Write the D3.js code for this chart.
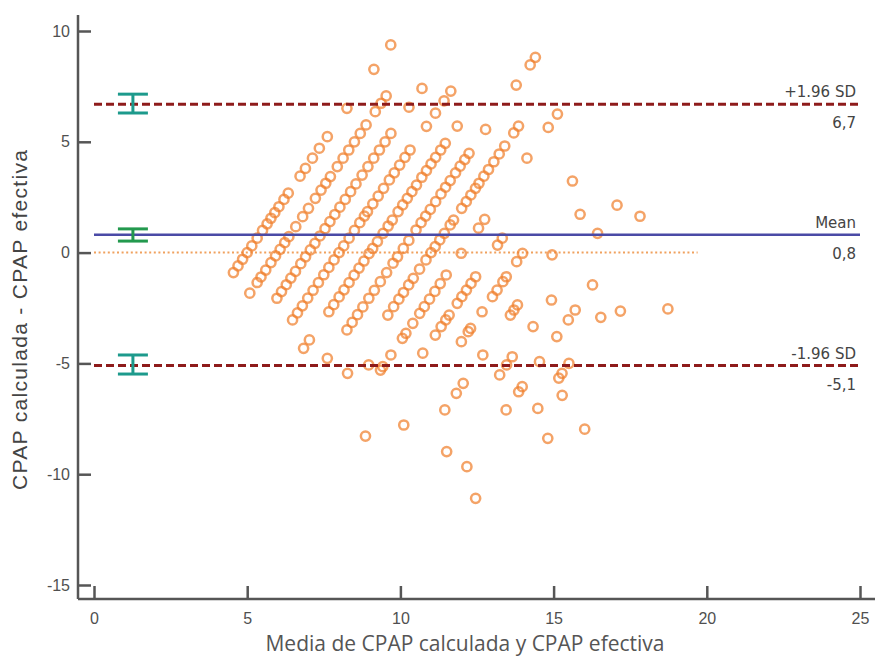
<!DOCTYPE html>
<html><head><meta charset="utf-8">
<script src="https://cdn.jsdelivr.net/npm/d3@7"></script>
<style>
html,body{margin:0;padding:0;background:#fff;}
svg{display:block;}
text{font-family:"Liberation Sans",Arial,sans-serif;}
</style></head>
<body><svg id="chart" width="875" height="657"></svg>
<script>
// CPAP efectiva levels (each diagonal of the plot) and the differences (calculada - efectiva) read per level
const efectivaLevels = [5, 6, 7, 8, 9, 10, 11, 11.5, 12, 13, 14, 15, 16, 17, 18, 18.5, 19, 20];
const differencesByLevel = [
  [-0.9,-0.6,-0.3,0.0,0.3,0.65,1.0,1.3,1.55,1.8,2.07,2.4,2.68,3.45,3.8,4.26,4.71,5.23,6.51,8.27,9.37],
  [-1.83,-1.35,-1.1,-0.79,-0.45,-0.15,0.15,0.45,0.72,1.17,1.62,2.0,2.45,2.82,3.13,3.43,3.88,4.26,4.63,5.0,5.38,5.76,6.36,6.74,7.07],
  [-2.06,-1.76,-1.45,-1.15,-0.85,-0.5,-0.19,0.12,0.42,0.75,1.08,1.4,1.72,2.05,2.4,2.75,3.1,3.5,3.88,4.26,4.63,5.0,5.38,6.56,7.41],
  [-3.04,-2.72,-2.4,-2.05,-1.7,-1.35,-1.0,-0.67,-0.33,0.0,0.3,0.65,1.0,1.35,1.65,1.85,2.2,2.55,2.9,3.28,3.6,3.95,4.3,4.63,5.7,6.29,6.85,7.29],
  [-4.32,-3.94,-2.67,-2.35,-2.0,-1.68,-1.35,-1.02,-0.7,-0.38,-0.05,0.19,0.5,0.87,1.2,1.47,1.85,2.15,2.45,2.75,3.05,3.4,3.7,4.0,4.3,4.63,4.93,5.71],
  [-4.77,-3.49,-3.15,-2.8,-2.45,-2.06,-1.7,-1.31,-0.9,-0.48,-0.19,0.19,0.55,1.02,1.35,1.65,1.95,2.3,2.65,2.95,3.25,3.6,3.9,4.2,4.48,5.56,7.56,8.47,8.81],
  [-5.45,-2.82,-2.44,-2.1,-1.8,-1.46,-1.16,-0.75,-0.33,0.0,0.27,0.57,0.87,1.25,1.47,2.0,2.3,2.6,2.9,3.13,3.45,3.75,4.1,4.45,4.81,5.4,5.71],
  [-5.07],
  [-5.3,-5.15,-4.62,-3.87,-3.64,-3.19,-2.74,-2.44,-2.1,-1.75,-1.4,-1.01,-0.03,1.1,1.5,4.26,5.65,6.25],
  [-8.28,-4.54,-3.72,-3.34,-3.04,-2.82,-2.29,-1.99,-1.69,-1.39,-1.09,0.34,0.65],
  [-7.78,-4.02,-3.57,-3.42,-2.67,-1.99,-1.69,-1.31,-1.09,-0.41,-0.03,3.23],
  [-7.1,-6.35,-5.9,-4.62,-2.82,-2.59,-2.36,-0.1,1.73],
  [-8.98,-5.52,-5.07,-4.7,-3.34,-2.14,0.87,2.14],
  [-9.66,-7.1,-6.28,-6.05,-4.92,-3.79,-3.04,-2.59,-1.46,1.64],
  [-11.09,-7.03,-5.66,-5.45,-5.0,-2.92],
  [-6.44,-2.64],
  [-8.38],
  [-7.97,-2.54]
];
const xTicks = [0, 5, 10, 15, 20, 25];
const yTicks = [10, 5, 0, -5, -10, -15];
const meanDiff = 0.8, upperLoA = 6.7, lowerLoA = -5.1;
const ciX = 1.27;
const ciUpper = [6.3, 7.15], ciMean = [0.52, 1.07], ciLower = [-5.48, -4.62];
const zeroLineEnd = 19.7;
const lineLabels = [
  {value: upperLoA, top: "+1.96 SD", bottom: "6,7"},
  {value: meanDiff, top: "Mean", bottom: "0,8"},
  {value: lowerLoA, top: "-1.96 SD", bottom: "-5,1"}
];

const points = [];
efectivaLevels.forEach((b, i) => differencesByLevel[i].forEach(d => {
  const calc = b + d;
  points.push({mean: (calc + b) / 2, diff: calc - b});
}));

const svg = d3.select("#chart");
const x = d3.scaleLinear().domain([0, 25]).range([94, 860]);
const y = d3.scaleLinear().domain([-15, 10]).range([585, 31]);
const axisLeftX = 78, axisBottomY = 599;
const axisColor = "#565656";

// zero reference (dotted)
svg.append("line").attr("x1", x(0)).attr("x2", x(zeroLineEnd))
  .attr("y1", y(0)).attr("y2", y(0))
  .attr("stroke", "#f0a15e").attr("stroke-width", 2).attr("stroke-dasharray", "2,2.6");

// points
svg.append("g").selectAll("circle").data(points).join("circle")
  .attr("cx", d => x(d.mean)).attr("cy", d => y(d.diff)).attr("r", 4.6)
  .attr("fill", "none").attr("stroke", "#f07f2c").attr("stroke-width", 2.5).attr("stroke-opacity", 0.72);

// limits of agreement and mean
[upperLoA, lowerLoA].forEach(v => {
  svg.append("line").attr("x1", x(0)).attr("x2", x(25)).attr("y1", y(v)).attr("y2", y(v))
    .attr("stroke", "#8e1b1b").attr("stroke-width", 3).attr("stroke-dasharray", "8,4");
});
svg.append("line").attr("x1", x(0)).attr("x2", x(25)).attr("y1", y(meanDiff)).attr("y2", y(meanDiff))
  .attr("stroke", "#4a4aa6").attr("stroke-width", 2.5);

// confidence interval bars
function ciBar(range, color) {
  const g = svg.append("g").attr("stroke", color).attr("stroke-width", 3);
  g.append("line").attr("x1", x(ciX)).attr("x2", x(ciX)).attr("y1", y(range[0])).attr("y2", y(range[1]));
  range.forEach(v => g.append("line").attr("x1", x(ciX) - 15).attr("x2", x(ciX) + 15).attr("y1", y(v)).attr("y2", y(v)));
}
ciBar(ciUpper, "#1d9a8c");
ciBar(ciMean, "#23994e");
ciBar(ciLower, "#1d9a8c");

// line labels
lineLabels.forEach(l => {
  svg.append("text").attr("x", 856).attr("y", y(l.value) - 7).attr("text-anchor", "end")
    .attr("font-size", 15).attr("fill", "#444").style("font-family", "'DejaVu Sans', Verdana, sans-serif").text(l.top);
  svg.append("text").attr("x", 856).attr("y", y(l.value) + 24).attr("text-anchor", "end")
    .attr("font-size", 15).attr("fill", "#444").style("font-family", "'DejaVu Sans', Verdana, sans-serif").text(l.bottom);
});

// axes
const fmt = d => String(d);
const xAxis = d3.axisBottom(x).tickValues(xTicks).tickSize(-13).tickPadding(25).tickFormat(fmt);
const gx = svg.append("g").attr("transform", `translate(0,${axisBottomY})`).call(xAxis);
gx.select(".domain").remove();
gx.append("line").attr("x1", axisLeftX).attr("x2", 875).attr("y1", 0).attr("y2", 0)
  .attr("stroke", axisColor).attr("stroke-width", 2.5);
gx.selectAll(".tick line").attr("stroke", axisColor).attr("stroke-width", 2.5);
gx.selectAll(".tick text").attr("font-size", 16).attr("fill", "#505050").attr("dy", "0")
  .style("font-family", "'Liberation Sans', Arial, sans-serif");

const yAxis = d3.axisLeft(y).tickValues(yTicks).tickSize(-13).tickPadding(8).tickFormat(fmt);
const gy = svg.append("g").attr("transform", `translate(${axisLeftX},0)`).call(yAxis);
gy.select(".domain").remove();
gy.append("line").attr("x1", 0).attr("x2", 0).attr("y1", 15).attr("y2", axisBottomY)
  .attr("stroke", axisColor).attr("stroke-width", 2.5);
gy.selectAll(".tick line").attr("stroke", axisColor).attr("stroke-width", 2.5);
gy.selectAll(".tick text").attr("font-size", 16).attr("fill", "#505050")
  .style("font-family", "'Liberation Sans', Arial, sans-serif");

// axis titles
svg.append("text").attr("transform", `translate(27,${320}) rotate(-90)`).attr("text-anchor", "middle")
  .attr("font-size", 21).attr("fill", "#444").attr("textLength", 340).attr("lengthAdjust", "spacing")
  .text("CPAP calculada - CPAP efectiva");
svg.append("text").attr("x", 465).attr("y", 651).attr("text-anchor", "middle")
  .attr("font-size", 21).attr("fill", "#555").style("font-family", "'Open Sans', sans-serif")
  .text("Media de CPAP calculada y CPAP efectiva");
</script></body></html>
